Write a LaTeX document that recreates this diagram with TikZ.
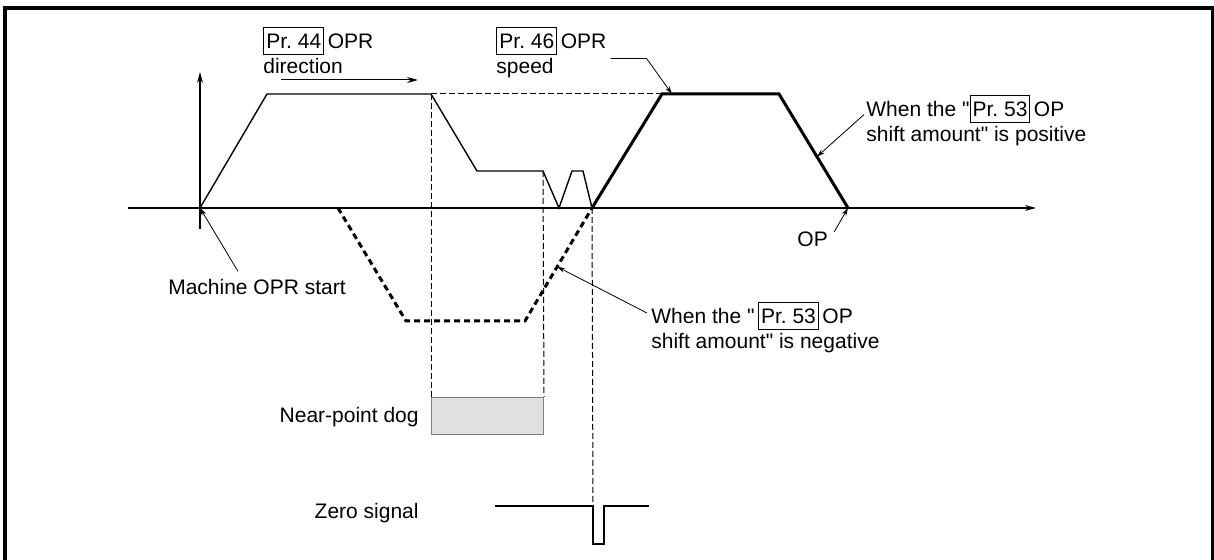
\documentclass[tikz,border=0pt]{standalone}
\usepackage{fontspec}
\setmainfont{Liberation Sans}
\usetikzlibrary{arrows.meta,calc}

\newcommand{\prbox}[1]{{\setlength{\fboxsep}{1pt}\setlength{\fboxrule}{0.5pt}\fbox{\rule[-2pt]{0pt}{11pt}Pr.~#1}}}

\tikzset{
  wave/.style={line width=0.7pt},
  shiftwave/.style={line width=1.5pt},
  negwave/.style={line width=1.5pt, dash pattern=on 3pt off 2pt},
  guide/.style={line width=0.5pt, dash pattern=on 3pt off 1.5pt},
  leader/.style={line width=0.4pt, -{Stealth[length=4pt,width=2.4pt]}},
  lbl/.style={inner sep=0pt, font=\fontsize{10.5}{12.5}\selectfont},
  multi/.style={lbl, align=left, anchor=north west},
  dogbox/.style={draw=gray, fill=gray!24, line width=0.5pt, inner sep=0pt}
}

\begin{document}
\begin{tikzpicture}[x=0.5pt, y=-0.5pt, >={Stealth[length=5.5pt,width=3pt]}]
    \useasboundingbox (0,0) rectangle (1214,560);

    % Cadre
    \draw[line width=2pt] (5,560) -- (5,8) -- (1212.5,8) -- (1212.5,560);

    % Points de la courbe
    \coordinate (O) at (200,208);
    \coordinate (a1) at (267,94);
    \coordinate (a2) at (431,94);
    \coordinate (a3) at (477,171);
    \coordinate (a4) at (543,171);
    \coordinate (a5) at (559,208);
    \coordinate (a6) at (572,171);
    \coordinate (a7) at (583,171);
    \coordinate (Z) at (592,208);
    \coordinate (b1) at (662,94);
    \coordinate (b2) at (779,94);
    \coordinate (OPp) at (848,208);
    \coordinate (n0) at (338,208);
    \coordinate (n1) at (406,321);
    \coordinate (n2) at (525,321);
    \coordinate (spdtip) at (672,94);

    % Axes
    \draw[->, line width=0.6pt] (128,208) -- (1036,208);
    \draw[->, line width=0.6pt] (200,229) -- (200,72);

    % Near-point dog
    \node[dogbox, anchor=north west, minimum width=56pt, minimum height=18.5pt] (dog) at (431,397) {};

    % Signal zero
    \coordinate (zs0) at (495,506);
    \coordinate (zs1) at (593,506);
    \coordinate (zs2) at (649,506);
    \draw[wave] (zs0) -- (zs1) -- ++(0,38) -- ++(11,0) -- ++(0,-38) -- (zs2);

    % Lignes de repere
    \draw[guide] (a2) -- (b1);
    \draw[guide] (a2) -- (dog.north west);
    \draw[guide] (a4) -- (dog.north east);
    \draw[guide] (Z) -- (zs1);

    % Courbes de vitesse
    \draw[wave] (O) -- (a1) -- (a2) -- (a3) -- (a4) -- (a5) -- (a6) -- (a7) -- (Z);
    \draw[shiftwave] (Z) -- (b1) -- (b2) -- (OPp);
    \draw[negwave] (n0) -- (n1) -- (n2) -- (Z);

    % Sens de retour
    \coordinate (dirA) at (281,80);
    \coordinate (dirB) at (418,80);
    \draw[->, line width=0.5pt] (dirA) -- (dirB);

    % Textes
    \node[multi] (dir) at (263,27) {\prbox{44}\,OPR\\direction};
    \node[multi] (speed) at (496,27) {\prbox{46}\,OPR\\speed};
    \node[multi] (pos) at (866,95) {When the \textquotedbl\prbox{53}\,OP\\shift amount\textquotedbl{} is positive};
    \node[multi] (neg) at (651,302) {When the \textquotedbl\,\prbox{53}\,OP\\shift amount\textquotedbl{} is negative};
    \node[lbl, anchor=base] (start) at (257,295) {Machine OPR start};
    \node[lbl, anchor=base west] (op) at (797,247) {OP};
    \node[lbl, anchor=base east] (doglbl) at (419,423) {Near-point dog};
    \node[lbl, anchor=base east] (zerolbl) at (419,518) {Zero signal};

    % Fleches de renvoi
    \draw[leader] ([xshift=-9.5pt,yshift=4pt]start.north) -- (O);
    \draw[leader] ([xshift=2pt,yshift=-3pt]speed.east) -- ++(36,0) -- (spdtip);
    \draw[leader] ([xshift=-1pt,yshift=3pt]pos.west) -- ($(b2)!0.55!(OPp)$);
    \draw[leader] ([xshift=-2pt,yshift=-5.5pt]neg.north west) -- ($(n2)!0.48!(Z)$);
    \draw[leader] ([xshift=3pt]op.north east) -- (OPp);
\end{tikzpicture}
\end{document}
